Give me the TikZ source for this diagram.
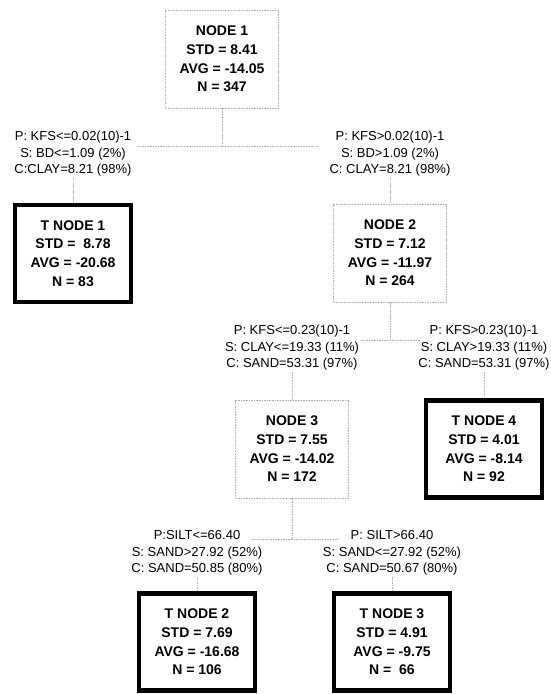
\documentclass[tikz,border=0pt]{standalone}
\usepackage{fontspec}
\setmainfont{Liberation Sans}
\begin{document}
\begin{tikzpicture}[x=1pt, y=-1pt,
		split/.style={draw=gray!60, dash pattern=on 1.6pt off 1pt, line width=0.6pt,
			minimum width=113pt, minimum height=98pt, align=center,
			font=\fontsize{14}{18.7}\selectfont\bfseries},
		leaf/.style={split, draw=black, solid, line width=4.5pt, minimum width=116pt, minimum height=97pt},
		rule/.style={align=center, inner sep=1.5pt, font=\fontsize{13}{16.5}\selectfont},
		link/.style={draw=gray!60, dash pattern=on 1.6pt off 1pt, line width=0.6pt}]
		\useasboundingbox (0,0) rectangle (550,694);
		% Root
		\node[split] (n1) at (222,59) {NODE 1\\STD = 8.41\\AVG = -14.05\\N = 347};
		\node[rule] (l1) at (73,154) {P: KFS<=0.02(10)-1\\S: BD<=1.09 (2\%)\\C:CLAY=8.21 (98\%)};
		\node[rule] (r1) at (390,154) {P: KFS>0.02(10)-1\\S: BD>1.09 (2\%)\\C: CLAY=8.21 (98\%)};
		\coordinate (s1) at (222,146);
		\coordinate (b1l) at (137,146);
		\coordinate (b1r) at (319,146);
		\node[leaf] (t1) at (73,253.5) {T NODE 1\\STD =\ \ 8.78\\AVG = -20.68\\N = 83};
		\node[split] (n2) at (390,253) {NODE 2\\STD = 7.12\\AVG = -11.97\\N = 264};
		% Second split
		\node[rule] (l2) at (292,348) {P: KFS<=0.23(10)-1\\S: CLAY<=19.33 (11\%)\\C: SAND=53.31 (97\%)};
		\node[rule] (r2) at (484,348) {P: KFS>0.23(10)-1\\S: CLAY>19.33 (11\%)\\C: SAND=53.31 (97\%)};
		\coordinate (s2) at (390,340);
		\coordinate (b2l) at (361,340);
		\coordinate (b2r) at (420,340);
		\node[split] (n3) at (292,449) {NODE 3\\STD = 7.55\\AVG = -14.02\\N = 172};
		\node[leaf] (t4) at (484,449) {T NODE 4\\STD = 4.01\\AVG = -8.14\\N = 92};
		% Third split
		\node[rule] (l3) at (197,553) {P:SILT<=66.40\\S: SAND>27.92 (52\%)\\C: SAND=50.85 (80\%)};
		\node[rule] (r3) at (392,553) {P: SILT>66.40\\S: SAND<=27.92 (52\%)\\C: SAND=50.67 (80\%)};
		\coordinate (s3) at (292,539);
		\coordinate (b3l) at (252,539);
		\coordinate (b3r) at (340,539);
		\node[leaf] (t2) at (197,642) {T NODE 2\\STD = 7.69\\AVG = -16.68\\N = 106};
		\node[leaf] (t3) at (392,642) {T NODE 3\\STD = 4.91\\AVG = -9.75\\N =\ \ 66};
		% Connectors
		\foreach \up/\bar/\lft/\rgt in {n1/1/l1/r1, n2/2/l2/r2, n3/3/l3/r3} {
			\draw[link] (\up) -- (s\bar);
			\draw[link] (b\bar l) -- (b\bar r);
		}
		\foreach \a/\b in {l1/t1, r1/n2, l2/n3, r2/t4, l3/t2, r3/t3} {
			\draw[link] (\a) -- (\b);
		}
	\end{tikzpicture}
\end{document}
